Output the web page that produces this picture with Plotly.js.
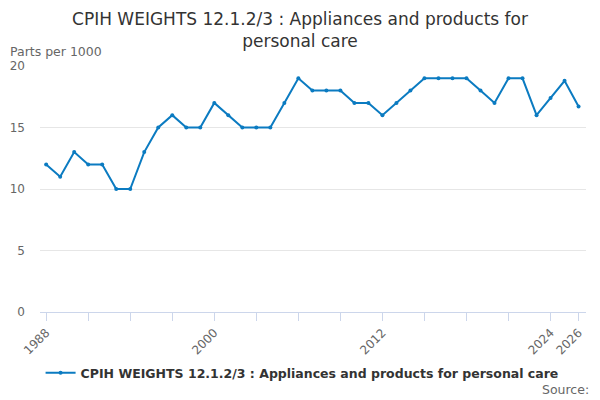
<!DOCTYPE html>
<html>
<head>
<meta charset="utf-8">
<script src="https://cdn.plot.ly/plotly-3.0.1.min.js"></script>
<style>
	html, body { margin: 0; padding: 0; background: #fff; }
	#chart { width: 600px; height: 400px; }
</style>
</head>
<body>
<div id="chart"></div>
<script>
const years = [
	1988, 1989, 1990, 1991, 1992, 1993, 1994, 1995, 1996, 1997,
	1998, 1999, 2000, 2001, 2002, 2003, 2004, 2005, 2006, 2007,
	2008, 2009, 2010, 2011, 2012, 2013, 2014, 2015, 2016, 2017,
	2018, 2019, 2020, 2021, 2022, 2023, 2024, 2025, 2026
];
const weights = [
	12, 11, 13, 12, 12, 10, 10, 13, 15, 16,
	15, 15, 17, 16, 15, 15, 15, 17, 19, 18,
	18, 18, 17, 17, 16, 17, 18, 19, 19, 19,
	19, 18, 17, 19, 19, 16, 17.4, 18.8, 16.7
];
const tickYears = [1988, 1991, 1994, 1997, 2000, 2003, 2006, 2009, 2012, 2015, 2018, 2021, 2024, 2026];
const tickLabels = ['1988', '', '', '', '2000', '', '', '', '2012', '', '', '', '2024', '2026'];

const seriesName = 'CPIH WEIGHTS 12.1.2/3 : Appliances and products for personal care';
const blue = '#0b7bc1';

const data = [{
	x: years,
	y: weights,
	name: '<b>' + seriesName + '</b>',
	type: 'scatter',
	mode: 'lines+markers',
	line: { color: blue, width: 2 },
	marker: { color: blue, size: 4 },
	showlegend: true,
}];

const layout = {
	width: 600,
	height: 400,
	font: { family: 'DejaVu Sans, sans-serif', color: '#666' },
	title: {
		text: 'CPIH WEIGHTS 12.1.2/3 : Appliances and products for<br>personal care',
		font: { size: 17, color: '#333' },
		x: 0.5,
		xanchor: 'center',
		y: 0.938,
		yanchor: 'middle',
	},
	margin: { t: 66, l: 40, r: 14, b: 88 },
	xaxis: {
		range: [1987.56, 2026.53],
		tickmode: 'array',
		tickvals: tickYears,
		ticktext: tickLabels,
		tickangle: -45,
		ticks: 'outside',
		ticklen: 8,
		tickcolor: '#ccd6eb',
		showgrid: false,
		showline: true,
		linecolor: '#ccd6eb',
		zeroline: false,
		tickfont: { size: 12, color: '#666' },
		fixedrange: true,
	},
	yaxis: {
		range: [0, 20],
		tickvals: [0, 5, 10, 15, 20],
		showgrid: true,
		gridcolor: '#e6e6e6',
		zeroline: false,
		showline: false,
		ticks: '',
		ticklabelstandoff: 14,
		tickfont: { size: 12, color: '#666' },
		fixedrange: true,
	},
	legend: {
		orientation: 'h',
		x: 0.48,
		xanchor: 'center',
		y: -0.248,
		yanchor: 'middle',
		font: { size: 12.5, color: '#333' },
	},
	annotations: [
		{
			text: 'Parts per 1000',
			xref: 'paper', yref: 'paper',
			x: -0.058, y: 1.06,
			xanchor: 'left', yanchor: 'middle',
			showarrow: false,
			font: { size: 12.5, color: '#666' },
		},
		{
			text: 'Source:',
			xref: 'paper', yref: 'paper',
			x: 1.01, y: -0.317,
			xanchor: 'right', yanchor: 'middle',
			showarrow: false,
			font: { size: 12.5, color: '#666' },
		},
	],
	paper_bgcolor: '#fff',
	plot_bgcolor: '#fff',
};

Plotly.newPlot('chart', data, layout, { displayModeBar: false, staticPlot: true });
</script>
</body>
</html>
